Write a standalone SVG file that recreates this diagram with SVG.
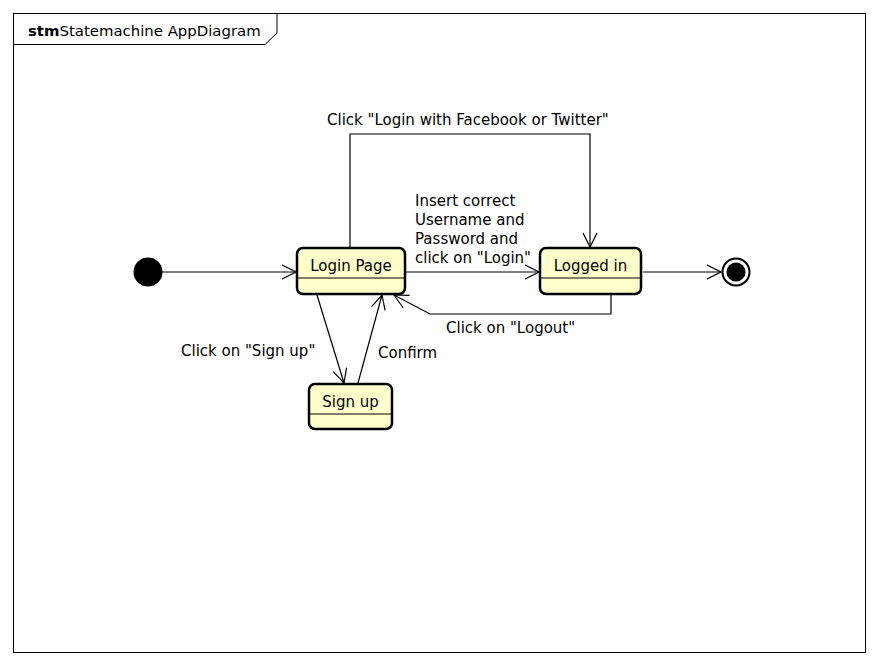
<svg xmlns="http://www.w3.org/2000/svg" width="880" height="666" viewBox="0 0 880 666">
<style>
text{font-family:"DejaVu Sans",sans-serif;font-size:15px;fill:#000}
.state rect{fill:#FFFFCC;stroke:#000;stroke-width:2.5}
.state line{stroke:#000;stroke-width:1.2}
.conn path{fill:none;stroke:#000;stroke-width:1.2}
</style>
<defs>
<marker id="open" viewBox="0 0 16 16" refX="15" refY="8" markerWidth="16" markerHeight="16" markerUnits="userSpaceOnUse" orient="auto">
<path d="M1,1 L15,8 L1,15" fill="none" stroke="#000" stroke-width="1.2"/>
</marker>
</defs>
<rect x="0" y="0" width="880" height="666" fill="#fff"/>
<g id="frame">
<rect x="13.5" y="13.5" width="852" height="639" fill="none" stroke="#000" stroke-width="1"/>
<path d="M13.5,44.5 L265,44.5 L277,33 L277,13.5" fill="none" stroke="#000" stroke-width="1"/>
<text x="28" y="36" style="font-size:14.9px"><tspan font-weight="bold">stm</tspan><tspan>Statemachine AppDiagram</tspan></text>
</g>
<g class="conn" id="connectors">
<path d="M162,272 L296,272" marker-end="url(#open)"/>
<path d="M406,272 L539,272" marker-end="url(#open)"/>
<path d="M643,272 L721,272" marker-end="url(#open)"/>
<path d="M350,247 L350,134 L590,134 L590,247" marker-end="url(#open)"/>
<path d="M611,295 L611,314 L430,314 L394,295" marker-end="url(#open)"/>
<path d="M317,295 L344,383" marker-end="url(#open)"/>
<path d="M358,383 L382,295" marker-end="url(#open)"/>
<text x="327" y="125">Click "Login with Facebook or Twitter"</text>
<text x="415" y="206">Insert correct</text>
<text x="415" y="225">Username and</text>
<text x="415" y="244">Password and</text>
<text x="415" y="263">click on "Login"</text>
<text x="446" y="333">Click on "Logout"</text>
<text x="181" y="356">Click on "Sign up"</text>
<text x="378" y="358">Confirm</text>
</g>
<g id="initial">
<circle cx="148" cy="272" r="14.5" fill="#000"/>
</g>
<g id="final">
<circle cx="736" cy="272" r="13.5" fill="#fff" stroke="#000" stroke-width="2"/>
<circle cx="736" cy="272" r="9.5" fill="#000"/>
</g>
<g class="state" id="loginPage">
<rect x="297" y="248" width="108" height="46" rx="6"/>
<line x1="297" y1="278" x2="405" y2="278"/>
<text x="351" y="271" text-anchor="middle">Login Page</text>
</g>
<g class="state" id="loggedIn">
<rect x="540" y="248" width="101" height="46" rx="6"/>
<line x1="540" y1="278" x2="641" y2="278"/>
<text x="590.5" y="271" text-anchor="middle">Logged in</text>
</g>
<g class="state" id="signUp">
<rect x="309" y="384" width="83" height="45" rx="6"/>
<line x1="309" y1="414" x2="392" y2="414"/>
<text x="350.5" y="407" text-anchor="middle">Sign up</text>
</g>
</svg>
